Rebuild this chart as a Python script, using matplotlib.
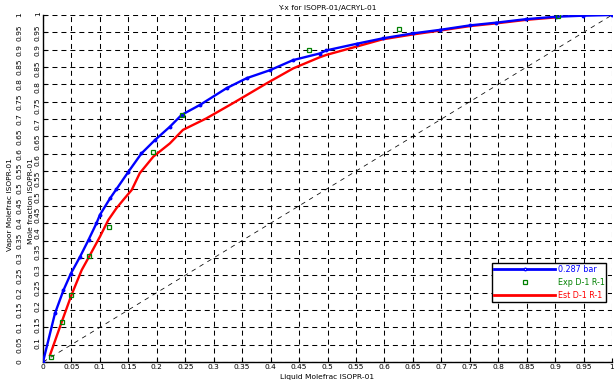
import matplotlib
matplotlib.use("Agg")
import matplotlib.pyplot as plt
from matplotlib.lines import Line2D

# ---- data ----
blue_x = [0.0, 0.021, 0.036, 0.049, 0.065, 0.080, 0.094, 0.100, 0.118, 0.129, 0.150, 0.173,
          0.197, 0.223, 0.2435, 0.276, 0.3225, 0.358, 0.399, 0.4395, 0.486, 0.498, 0.551,
          0.598, 0.650, 0.697, 0.750, 0.797, 0.849, 0.902, 0.949, 1.0]
blue_y = [0.0, 0.14, 0.207, 0.255, 0.303, 0.352, 0.40, 0.424, 0.472, 0.498, 0.548, 0.601,
          0.640, 0.678, 0.712, 0.741, 0.789, 0.818, 0.841, 0.870, 0.889, 0.898, 0.917,
          0.933, 0.947, 0.957, 0.970, 0.978, 0.988, 0.995, 0.998, 1.0]

red_x = [0.0123, 0.033, 0.050, 0.068, 0.0825, 0.100, 0.1147, 0.129, 0.141, 0.156, 0.170,
         0.194, 0.223, 0.246, 0.287, 0.334, 0.393, 0.4395, 0.486, 0.498, 0.551, 0.597,
         0.650, 0.697, 0.750, 0.797, 0.849, 0.900]
red_y = [0.02, 0.116, 0.193, 0.265, 0.308, 0.361, 0.409, 0.443, 0.467, 0.496, 0.544,
         0.592, 0.630, 0.669, 0.702, 0.746, 0.803, 0.846, 0.878, 0.885, 0.909, 0.930,
         0.944, 0.955, 0.968, 0.976, 0.986, 0.993]

exp_x = [0.0135, 0.033, 0.050, 0.081, 0.116, 0.194, 0.2435, 0.467, 0.626, 0.905]
exp_y = [0.015, 0.116, 0.193, 0.305, 0.39, 0.606, 0.712, 0.899, 0.960, 0.997]

diag = [0.0, 1.0]

ticks = [i * 0.05 for i in range(21)]
tick_labels = ["0", "0.05", "0.1", "0.15", "0.2", "0.25", "0.3", "0.35", "0.4", "0.45", "0.5",
               "0.55", "0.6", "0.65", "0.7", "0.75", "0.8", "0.85", "0.9", "0.95", "1"]
inner_ticks = ticks[2:]
inner_labels = tick_labels[2:]

title = "Y-x for ISOPR-01/ACRYL-01"
xlabel = "Liquid Molefrac ISOPR-01"
ylabel_outer = "Vapor Molefrac ISOPR-01"
ylabel_inner = "Mole fraction ISOPR-01"
legend_labels = ["0.287 bar", "Exp D-1 R-1", "Est D-1 R-1"]

W, H = 616, 386
FS = 5.4

fig = plt.figure(figsize=(W / 100, H / 100), dpi=100)
fig.patch.set_facecolor("white")

ax = fig.add_axes([43 / W, 1 - 362 / H, (612 - 43) / W, (362 - 15) / H])
ax.set_xlim(0, 1)
ax.set_ylim(0, 1)
for s in ["top", "right"]:
    ax.spines[s].set_visible(False)
for s in ["left", "bottom"]:
    ax.spines[s].set_linewidth(1.0)
    ax.spines[s].set_color("black")

ax.set_xticks(ticks)
ax.set_xticklabels(tick_labels, fontsize=FS)
ax.set_yticks(ticks)
ax.set_yticklabels(tick_labels, fontsize=FS, rotation=90, va="center")
ax.tick_params(axis="x", direction="in", length=3, pad=1.2)
ax.tick_params(axis="y", direction="in", length=3, pad=15)

ax.grid(True, color="black", linestyle=(0, (4.8, 3.8)), linewidth=0.75)
ax.set_axisbelow(True)

ax.plot(diag, diag, color="black", linestyle=(0, (6, 6)), linewidth=0.55, zorder=2)
ax.plot(red_x, red_y, color="red", linewidth=1.7, zorder=3)
ax.plot(blue_x, blue_y, color="blue", linewidth=1.7, marker="o", markersize=1.8,
        markerfacecolor="blue", markeredgecolor="blue", zorder=4)
ax.plot(exp_x, exp_y, linestyle="none", marker="s", markersize=3,
        markerfacecolor="none", markeredgecolor="green", markeredgewidth=0.9, zorder=5)

# inner (second) y axis labels
ax2 = fig.add_axes([43 / W, 1 - 379.6 / H, (612 - 43) / W, (379.6 - 14) / H])
ax2.set_ylim(0, 1)
ax2.patch.set_visible(False)
for s in ax2.spines.values():
    s.set_visible(False)
ax2.set_xticks([])
ax2.set_yticks(inner_ticks)
ax2.set_yticklabels(inner_labels, fontsize=FS, rotation=90, va="center")
ax2.tick_params(axis="y", length=0, pad=1.5)

handles = [
    Line2D([], [], color="blue", linewidth=2, marker="o", markersize=1.8,
           markerfacecolor="white", markeredgecolor="blue"),
    Line2D([], [], color="green", linestyle="none", marker="s", markersize=3,
           markerfacecolor="none", markeredgecolor="green", markeredgewidth=0.9),
    Line2D([], [], color="red", linewidth=2),
]
leg = ax.legend(handles, legend_labels, loc="lower left",
                bbox_to_anchor=(0.789, 0.173, 0.2, 0.098), mode="expand",
                fontsize=FS + 0.4, frameon=True, fancybox=False, framealpha=1,
                edgecolor="black", handlelength=7.5, handletextpad=0.4,
                borderpad=0.3, labelspacing=0.45, borderaxespad=0)
leg.get_frame().set_linewidth(1.0)
for t, c in zip(leg.get_texts(), ["blue", "green", "red"]):
    t.set_color(c)

fig.text(327 / W, 1 - 8 / H, title, fontsize=FS, ha="center", va="center")
fig.text(327 / W, 1 - 376.5 / H, xlabel, fontsize=FS, ha="center", va="center")
fig.text(10 / W, 1 - 158 / H, ylabel_outer, fontsize=FS, rotation=90, ha="center", va="top")
fig.text(31 / W, 1 - 158 / H, ylabel_inner, fontsize=FS, rotation=90, ha="center", va="top")

fig.savefig("out.png", dpi=100, facecolor="white")
